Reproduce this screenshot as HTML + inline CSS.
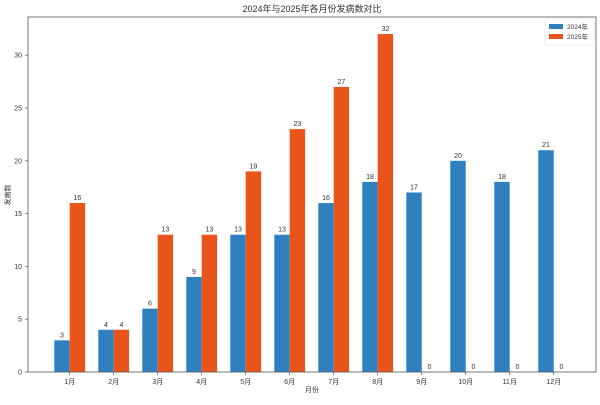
<!DOCTYPE html>
<html><head><meta charset="utf-8"><style>
body{margin:0;background:#fff;}
svg text{font-family:"Liberation Sans","Noto Sans CJK SC",sans-serif;fill:#333;}
</style></head><body>
<svg width="600" height="400" xmlns="http://www.w3.org/2000/svg">
<text x="312" y="12" font-size="9" text-anchor="middle">2024年与2025年各月份发病数对比</text>
<g id="bars"></g>
<rect x="28" y="17" width="568" height="355" fill="none" stroke="#555" stroke-width="0.8"/>
<g id="ticks" font-size="7"></g>
<text x="312" y="392" font-size="7" text-anchor="middle">月份</text>
<text x="10" y="195" font-size="7" text-anchor="middle" transform="rotate(-90 10 195)">发病数</text>
<rect x="545" y="19" width="49" height="26" fill="#fff" stroke="#ddd" stroke-width="0.6" rx="2"/>
<rect x="549" y="24" width="14" height="5" fill="#2f80bf"/>
<rect x="549" y="34" width="14" height="5" fill="#e8541a"/>
<text x="567" y="29" font-size="6.5">2024年</text>
<text x="567" y="39" font-size="6.5">2025年</text>
</svg>
<script>
const a=[3,4,6,9,13,13,16,18,17,20,18,21],b=[16,4,13,13,19,23,27,32,0,0,0,0];
const s=10.56,y0=372,w=15.4;let h='',t='';
for(let i=0;i<12;i++){const c=69.7+44*i;
h+=`<rect x="${c-w}" y="${y0-a[i]*s}" width="${w}" height="${a[i]*s}" fill="#2f80bf"/>`;
h+=`<rect x="${c}" y="${y0-b[i]*s}" width="${w}" height="${b[i]*s}" fill="#e8541a"/>`;
h+=`<text x="${c-w/2}" y="${y0-a[i]*s-3}" font-size="7" text-anchor="middle">${a[i]}</text>`;
h+=`<text x="${c+w/2}" y="${y0-b[i]*s-3}" font-size="7" text-anchor="middle">${b[i]}</text>`;
t+=`<line x1="${c}" x2="${c}" y1="372" y2="375" stroke="#555" stroke-width="0.7"/><text x="${c}" y="384" text-anchor="middle">${i+1}月</text>`;}
for(let v=0;v<=30;v+=5){const y=y0-v*s;t+=`<line x1="25" x2="28" y1="${y}" y2="${y}" stroke="#555" stroke-width="0.7"/><text x="22" y="${y+2.5}" text-anchor="end">${v}</text>`;}
document.getElementById('bars').innerHTML=h;document.getElementById('ticks').innerHTML=t;
</script>
</body></html>
